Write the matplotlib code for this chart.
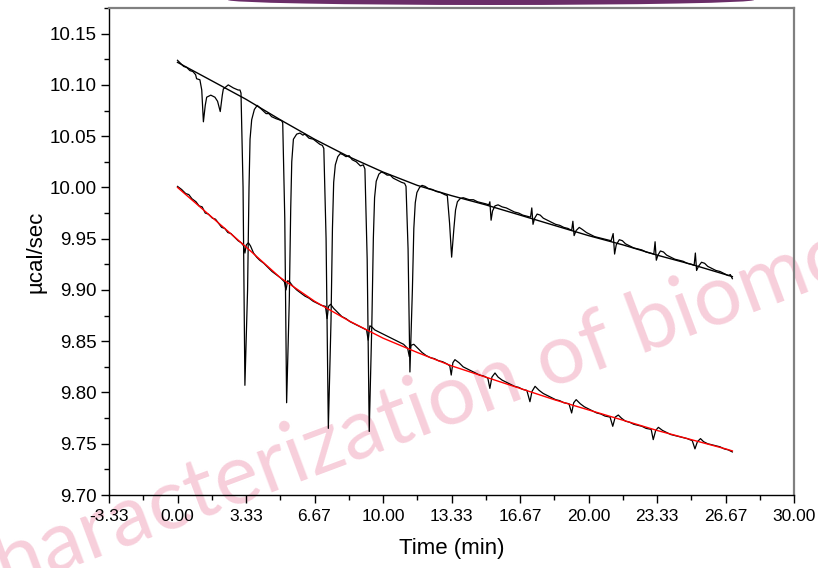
import numpy as np
import matplotlib.pyplot as plt
from matplotlib.patches import Ellipse

# fitted baselines
fit_t = [0.0, 1.67, 3.33, 5.0, 6.67, 8.33, 10.0, 11.67, 13.33, 15.0, 16.67,
         18.33, 20.0, 21.67, 23.33, 25.0, 26.67, 27.0]
fit_top = [10.122, 10.104, 10.086, 10.066, 10.047, 10.030, 10.015, 10.002, 9.992,
           9.983, 9.973, 9.963, 9.953, 9.944, 9.934, 9.925, 9.915, 9.913]
fit_bottom = [10.000, 9.971, 9.942, 9.912, 9.889, 9.870, 9.853, 9.839, 9.826,
              9.815, 9.804, 9.793, 9.783, 9.773, 9.763, 9.754, 9.745, 9.743]

# raw titration trace (upper)
top_t = [0.00, 0.15, 0.30, 0.45, 0.60, 0.75, 0.88, 0.93, 1.09, 1.18, 1.26, 1.35, 1.42,
         1.62, 1.82, 1.95, 2.08, 2.18, 2.23, 2.47, 2.72, 2.95, 3.04, 3.09,
         3.19, 3.28, 3.41, 3.48, 3.53, 3.61, 3.74, 3.88,
         4.10, 4.31, 4.45, 4.58, 4.80, 4.95, 5.07, 5.12,
         5.22, 5.31, 5.44, 5.51, 5.56, 5.64, 5.80, 5.96, 6.10, 6.20, 6.40, 6.61, 6.80,
         6.93, 7.05, 7.12,
         7.23, 7.34, 7.47, 7.54, 7.60, 7.68, 7.80, 7.92, 8.05, 8.20, 8.35, 8.50, 8.70,
         8.90, 9.04, 9.12,
         9.23, 9.33, 9.46, 9.53, 9.59, 9.67, 9.80, 9.92, 10.05, 10.20, 10.35, 10.50,
         10.70, 10.90, 11.05, 11.12,
         11.22, 11.31, 11.43, 11.50, 11.57, 11.65, 11.78, 11.90, 12.05, 12.20, 12.40,
         12.60, 12.80, 13.00, 13.13,
         13.24, 13.34, 13.45, 13.53, 13.62, 13.75, 13.90, 14.05, 14.20, 14.40, 14.60,
         14.80, 15.00, 15.15, 15.20, 15.26, 15.33, 15.45, 15.60, 15.80, 16.00, 16.20,
         16.40, 16.60, 16.80, 17.00, 17.18, 17.24, 17.30, 17.38, 17.50, 17.65, 17.80,
         18.00, 18.20, 18.40, 18.60, 18.80, 19.00, 19.18, 19.24, 19.30, 19.40, 19.55,
         19.70, 19.90, 20.10, 20.30, 20.50, 20.70, 20.90, 21.10, 21.20, 21.27, 21.35,
         21.50, 21.65, 21.80, 22.00, 22.20, 22.40, 22.60, 22.80, 23.00, 23.18, 23.24,
         23.30, 23.38, 23.50, 23.65, 23.80, 24.00, 24.20, 24.40, 24.60, 24.80, 25.00,
         25.14, 25.20, 25.26, 25.35, 25.50, 25.65, 25.80, 26.00, 26.20, 26.40, 26.60,
         26.80, 26.90, 27.00]
top_v = [10.124, 10.121, 10.118, 10.117, 10.114, 10.113, 10.110, 10.106, 10.105, 10.095,
         10.064, 10.080, 10.088, 10.090, 10.088, 10.084, 10.074, 10.090, 10.096, 10.100,
         10.097, 10.095, 10.095, 10.092,
         10.000, 9.807, 9.900, 10.000, 10.047, 10.066, 10.076, 10.080,
         10.076, 10.072, 10.072, 10.069, 10.067, 10.066, 10.065, 10.063,
         9.970, 9.790, 9.890, 9.980, 10.025, 10.047, 10.052, 10.053, 10.051, 10.052,
         10.048, 10.047, 10.044, 10.042, 10.041, 10.038,
         9.950, 9.765, 9.870, 9.960, 10.005, 10.022, 10.030, 10.033, 10.032, 10.030,
         10.031, 10.027, 10.025, 10.021, 10.022, 10.018,
         9.930, 9.762, 9.870, 9.950, 9.990, 10.006, 10.013, 10.015, 10.014, 10.012,
         10.012, 10.009, 10.007, 10.005, 10.004, 10.001,
         9.940, 9.820, 9.900, 9.960, 9.985, 9.995, 10.000, 10.002, 10.001, 9.999,
         9.998, 9.996, 9.995, 9.993, 9.992,
         9.965, 9.932, 9.960, 9.978, 9.986, 9.989, 9.990, 9.989, 9.988, 9.988, 9.986,
         9.985, 9.984, 9.983, 9.986, 9.968, 9.977, 9.982, 9.983, 9.981, 9.980, 9.978,
         9.976, 9.975, 9.973, 9.972, 9.971, 9.980, 9.964, 9.970, 9.974, 9.973, 9.970,
         9.968, 9.966, 9.964, 9.963, 9.961, 9.960, 9.958, 9.967, 9.953, 9.958, 9.961,
         9.959, 9.956, 9.954, 9.952, 9.951, 9.950, 9.949, 9.948, 9.955, 9.935, 9.944,
         9.949, 9.948, 9.945, 9.943, 9.941, 9.940, 9.939, 9.937, 9.936, 9.935, 9.947,
         9.929, 9.934, 9.938, 9.937, 9.934, 9.932, 9.930, 9.929, 9.928, 9.926, 9.925,
         9.924, 9.936, 9.919, 9.923, 9.927, 9.926, 9.923, 9.921, 9.919, 9.918, 9.916,
         9.914, 9.915, 9.911]

# raw blank trace (lower)
bot_t = [0.00, 0.20, 0.40, 0.55, 0.70, 0.90, 1.05, 1.20, 1.35, 1.50, 1.70, 1.85, 2.00,
         2.15, 2.30, 2.45, 2.60, 2.80, 2.95, 3.10, 3.22, 3.28, 3.35, 3.45, 3.55, 3.70,
         3.85, 4.00, 4.20, 4.40, 4.60, 4.80, 5.00, 5.20, 5.28, 5.36, 5.45, 5.60, 5.80,
         6.00, 6.20, 6.40, 6.60, 6.80, 7.00, 7.20, 7.28, 7.35, 7.45, 7.60, 7.80, 8.00,
         8.20, 8.40, 8.60, 8.80, 9.00, 9.20, 9.28, 9.36, 9.45, 9.60, 9.80, 10.00, 10.20,
         10.40, 10.60, 10.80, 11.00, 11.20, 11.28, 11.36, 11.50, 11.70, 11.90, 12.10,
         12.30, 12.50, 12.70, 12.90, 13.10, 13.25, 13.32, 13.40, 13.50, 13.70, 13.90,
         14.10, 14.30, 14.50, 14.70, 14.90, 15.10, 15.20, 15.30, 15.45, 15.60, 15.80,
         16.00, 16.20, 16.40, 16.60, 16.80, 17.00, 17.15, 17.25, 17.40, 17.60, 17.80,
         18.00, 18.20, 18.40, 18.60, 18.80, 19.05, 19.18, 19.28, 19.40, 19.60, 19.80,
         20.00, 20.20, 20.40, 20.60, 20.80, 21.05, 21.18, 21.30, 21.45, 21.60, 21.80,
         22.00, 22.20, 22.40, 22.60, 22.80, 23.05, 23.15, 23.27, 23.40, 23.60, 23.80,
         24.00, 24.20, 24.40, 24.60, 24.80, 25.05, 25.18, 25.30, 25.45, 25.60, 25.80,
         26.00, 26.20, 26.40, 26.60, 26.80, 27.00]
bot_v = [10.001, 9.998, 9.994, 9.993, 9.989, 9.986, 9.982, 9.981, 9.975, 9.974, 9.970,
         9.969, 9.965, 9.961, 9.960, 9.956, 9.955, 9.951, 9.948, 9.946, 9.943, 9.936,
         9.944, 9.946, 9.943, 9.936, 9.932, 9.929, 9.926, 9.922, 9.918, 9.915, 9.912,
         9.908, 9.900, 9.909, 9.908, 9.904, 9.900, 9.897, 9.894, 9.892, 9.889, 9.887,
         9.885, 9.884, 9.872, 9.884, 9.886, 9.882, 9.878, 9.874, 9.872, 9.869, 9.867,
         9.865, 9.863, 9.861, 9.851, 9.865, 9.864, 9.861, 9.859, 9.857, 9.855, 9.853,
         9.851, 9.849, 9.847, 9.843, 9.835, 9.846, 9.847, 9.843, 9.839, 9.836, 9.834,
         9.833, 9.831, 9.830, 9.828, 9.826, 9.817, 9.829, 9.832, 9.829, 9.825, 9.823,
         9.821, 9.819, 9.817, 9.816, 9.814, 9.804, 9.815, 9.819, 9.815, 9.812, 9.810,
         9.808, 9.806, 9.805, 9.803, 9.802, 9.791, 9.801, 9.806, 9.802, 9.799, 9.797,
         9.795, 9.793, 9.792, 9.790, 9.789, 9.780, 9.790, 9.793, 9.789, 9.786, 9.784,
         9.782, 9.780, 9.779, 9.777, 9.776, 9.767, 9.776, 9.778, 9.775, 9.772, 9.771,
         9.769, 9.768, 9.767, 9.765, 9.764, 9.754, 9.763, 9.766, 9.763, 9.761, 9.759,
         9.758, 9.757, 9.756, 9.755, 9.753, 9.745, 9.752, 9.755, 9.752, 9.750, 9.749,
         9.748, 9.747, 9.745, 9.744, 9.742]

x_ticks = [-10 / 3, 0, 10 / 3, 20 / 3, 10, 40 / 3, 50 / 3, 20, 70 / 3, 80 / 3, 30]
x_tick_labels = ['-3.33', '0.00', '3.33', '6.67', '10.00', '13.33', '16.67',
                 '20.00', '23.33', '26.67', '30.00']
y_ticks = [9.70, 9.75, 9.80, 9.85, 9.90, 9.95, 10.00, 10.05, 10.10, 10.15]

plt.rcParams['font.family'] = ['Liberation Sans', 'DejaVu Sans']

W, H = 818, 568
fig = plt.figure(figsize=(W / 100, H / 100), dpi=100)
ax = fig.add_axes([109 / W, 1 - 495 / H, 685 / W, 487 / H])
ax.set_facecolor('none')

ax.plot(top_t, top_v, color='black', lw=0.9)
ax.plot(bot_t, bot_v, color='black', lw=0.9)
ax.plot(fit_t, fit_top, color='black', lw=1.0)
ax.plot(fit_t, fit_bottom, color='red', lw=1.0)

ax.set_xlim(-10 / 3, 30)
ax.set_ylim(9.70, 10.175)
ax.set_xticks(x_ticks)
ax.set_xticklabels(x_tick_labels)
ax.set_xticks([t + 5 / 3 for t in x_ticks[:-1]], minor=True)
ax.set_yticks(y_ticks)
ax.set_yticklabels(['%.2f' % v for v in y_ticks])
ax.set_yticks([v + 0.025 for v in y_ticks], minor=True)

ax.tick_params(axis='both', which='major', direction='out', length=6, width=1,
               labelsize=12.5, pad=3)
ax.tick_params(axis='y', which='major', labelsize=13.5)
ax.tick_params(axis='x', which='major', pad=4)
ax.tick_params(axis='both', which='minor', direction='out', length=3.5, width=1)

for side in ['top', 'right']:
    ax.spines[side].set_color('#808080')
    ax.spines[side].set_linewidth(1.6)
for side in ['left', 'bottom']:
    ax.spines[side].set_color('black')
    ax.spines[side].set_linewidth(1.0)

ax.set_xlabel('Time (min)', fontsize=16, labelpad=10)
ax.set_ylabel('µcal/sec', fontsize=16, labelpad=2)

# watermark, behind the plot
fig.text(-32 / W, -38 / H, 'characterization of biomolecules', fontsize=61,
         family=['Lato', 'DejaVu Sans'], color='#f7cfdb', zorder=-1,
         rotation=20.5, rotation_mode='anchor', ha='left', va='baseline')

# banner edge at the top
fig.patches.append(Ellipse((491 / W, 1.0), 526 / W, 10 / H, transform=fig.transFigure,
                           facecolor='#6a2d68', edgecolor='none'))

fig.savefig('out.png', dpi=100)
